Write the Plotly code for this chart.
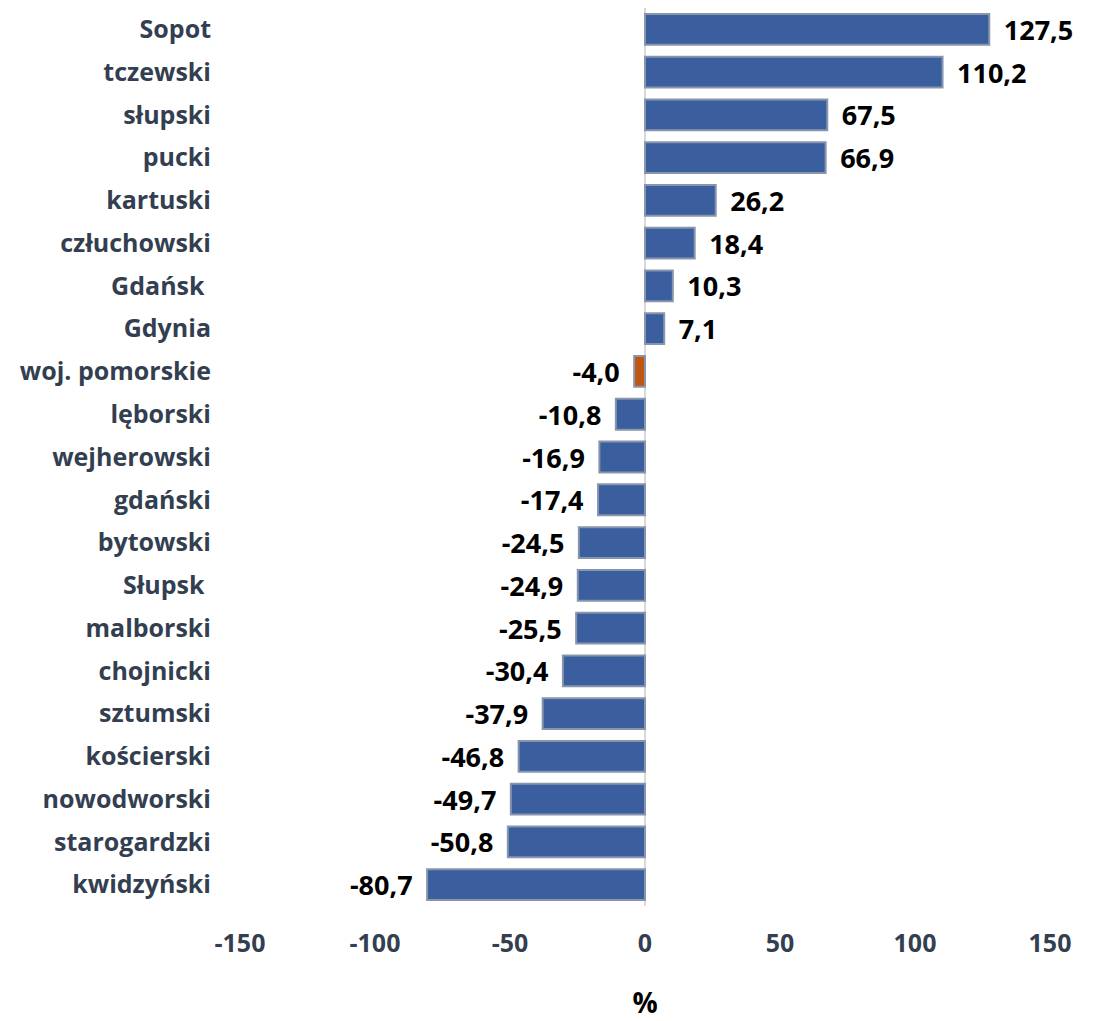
import plotly.graph_objects as go

categories = ["Sopot", "tczewski", "słupski", "pucki", "kartuski", "człuchowski",
              "Gdańsk\u00a0", "Gdynia", "woj. pomorskie", "lęborski", "wejherowski",
              "gdański", "bytowski", "Słupsk\u00a0", "malborski", "chojnicki",
              "sztumski", "kościerski", "nowodworski", "starogardzki", "kwidzyński"]
values = [127.5, 110.2, 67.5, 66.9, 26.2, 18.4, 10.3, 7.1, -4.0, -10.8, -16.9,
          -17.4, -24.5, -24.9, -25.5, -30.4, -37.9, -46.8, -49.7, -50.8, -80.7]
highlight = "woj. pomorskie"
x_ticks = [-150, -100, -50, 0, 50, 100, 150]

blue = "#3B5E9F"
orange = "#C0560F"
colors = [orange if c == highlight else blue for c in categories]
pad = "\u00a0\u2009"
labels = []
for v in values:
    s = f"{v:.1f}".replace(".", ",")
    labels.append(pad + s if v >= 0 else s + pad)

FONT = "Open Sans"

fig = go.Figure()
fig.add_trace(go.Bar(
    y=categories, x=values, orientation="h",
    marker=dict(color=colors, line=dict(color="#8795AD", width=2)),
    text=labels, textposition="outside", cliponaxis=False, constraintext="none",
    textfont=dict(family=FONT, size=27, color="#000000", weight="bold"),
))

fig.update_layout(
    width=1099, height=1013,
    margin=dict(l=232, r=57, t=0, b=115),
    plot_bgcolor="white", paper_bgcolor="white",
    bargap=0.28, showlegend=False,
    font=dict(family=FONT),
)
fig.update_yaxes(
    autorange="reversed", showgrid=False, showline=False, ticks="",
    ticklabelstandoff=28,
    tickfont=dict(family=FONT, size=25, color="#333F50", weight="bold"),
)
fig.update_xaxes(
    range=[-150, 150], tickvals=x_ticks, ticktext=[str(t) for t in x_ticks],
    showgrid=False, zeroline=True, zerolinecolor="#D9D9D9", zerolinewidth=1.5,
    showline=False, ticks="", ticklabelstandoff=20,
    tickfont=dict(family=FONT, size=25, color="#333F50", weight="bold"),
    title=dict(text="%", standoff=40,
               font=dict(family=FONT, size=28, color="#000000", weight="bold")),
)

fig.write_html("out.html")
